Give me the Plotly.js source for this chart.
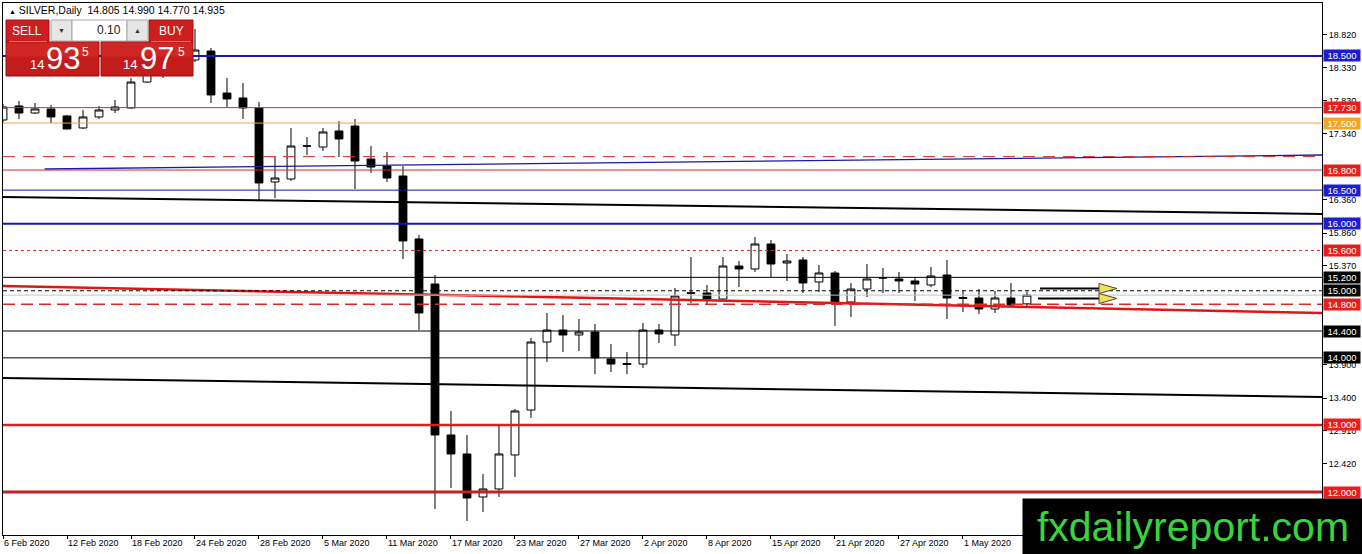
<!DOCTYPE html>
<html>
<head>
<meta charset="utf-8">
<script src="https://cdn.plot.ly/plotly-3.0.1.min.js"></script>
<style>
html, body { margin: 0; padding: 0; background: #fff; overflow: hidden; }
#chart { width: 1362px; height: 554px; }
</style>
</head>
<body>
<div id="chart"></div>
<script>
// SILVER daily bars, 6 Feb - 7 May 2020
var dates = [
  '6 Feb 2020','7 Feb 2020','10 Feb 2020','11 Feb 2020','12 Feb 2020','13 Feb 2020','14 Feb 2020',
  '17 Feb 2020','18 Feb 2020','19 Feb 2020','20 Feb 2020','21 Feb 2020','24 Feb 2020','25 Feb 2020',
  '26 Feb 2020','27 Feb 2020','28 Feb 2020',
  '2 Mar 2020','3 Mar 2020','4 Mar 2020','5 Mar 2020','6 Mar 2020','9 Mar 2020','10 Mar 2020',
  '11 Mar 2020','12 Mar 2020','13 Mar 2020','16 Mar 2020','17 Mar 2020','18 Mar 2020','19 Mar 2020',
  '20 Mar 2020','23 Mar 2020','24 Mar 2020','25 Mar 2020','26 Mar 2020','27 Mar 2020','30 Mar 2020',
  '31 Mar 2020',
  '1 Apr 2020','2 Apr 2020','3 Apr 2020','6 Apr 2020','7 Apr 2020','8 Apr 2020','9 Apr 2020',
  '13 Apr 2020','14 Apr 2020','15 Apr 2020','16 Apr 2020','17 Apr 2020','20 Apr 2020','21 Apr 2020',
  '22 Apr 2020','23 Apr 2020','24 Apr 2020','27 Apr 2020','28 Apr 2020','29 Apr 2020','30 Apr 2020',
  '1 May 2020','4 May 2020','5 May 2020','6 May 2020','7 May 2020'
];
var opens = [
  17.546,17.755,17.650,17.710,17.606,17.427,17.591,17.695,17.725,18.112,
  18.291,18.411,18.440,18.574,17.948,17.874,17.725,16.622,16.666,17.155,
  17.143,17.382,17.456,16.964,16.860,16.711,15.772,15.101,12.850,12.567,
  11.926,12.045,12.552,13.222,14.236,14.415,14.341,14.385,13.983,13.916,
  13.908,14.415,14.341,14.970,14.967,14.877,15.369,15.325,15.697,15.414,
  15.459,15.131,15.265,14.833,15.026,15.190,15.176,15.146,15.086,15.235,
  14.900,14.892,14.728,14.892,14.805
];
var highs = [
  17.784,17.829,17.799,17.770,17.620,17.695,17.755,17.844,18.172,18.351,
  18.500,18.679,18.902,18.619,18.172,18.097,17.814,17.009,17.427,17.292,
  17.427,17.531,17.561,17.158,17.069,16.860,15.831,15.235,13.208,12.850,
  12.268,12.984,13.237,14.296,14.669,14.639,14.579,14.505,14.206,14.087,
  14.520,14.505,15.041,15.503,15.086,15.503,15.444,15.802,15.757,15.548,
  15.503,15.384,15.295,15.116,15.399,15.340,15.280,15.205,15.354,15.459,
  14.997,15.026,14.997,15.116,14.990
];
var lows = [
  17.516,17.561,17.635,17.501,17.405,17.412,17.561,17.650,17.718,18.097,
  18.172,18.351,18.411,17.799,17.740,17.561,16.353,16.383,16.637,17.024,
  17.084,16.994,16.517,16.756,16.622,15.474,14.415,11.747,12.060,11.568,
  11.702,11.926,12.224,13.103,13.938,14.087,14.102,13.759,13.789,13.759,
  13.849,14.221,14.177,14.818,14.788,14.848,15.056,15.280,15.205,15.146,
  14.967,14.982,14.475,14.609,14.907,14.967,14.967,14.848,15.056,14.579,
  14.684,14.654,14.669,14.758,14.770
];
var closes = [
  17.740,17.650,17.710,17.591,17.412,17.591,17.695,17.740,18.112,18.291,
  18.411,18.560,18.589,17.919,17.859,17.725,16.607,16.681,17.158,17.160,
  17.367,17.263,16.935,16.845,16.681,15.742,14.669,12.850,12.567,11.911,
  12.045,12.567,13.208,14.236,14.415,14.341,14.385,13.998,13.908,13.901,
  14.415,14.356,14.922,14.962,14.877,15.369,15.325,15.697,15.399,15.444,
  15.116,15.265,14.833,15.026,15.176,15.192,15.146,15.101,15.220,14.892,
  14.885,14.728,14.892,14.788,14.935
];

// horizontal levels drawn on the chart, with a price box on the right
var levelPrices = [18.5, 17.73, 17.5, 16.8, 16.5, 16.0, 15.6, 15.2, 15.0, 14.8, 14.4, 14.0, 13.0, 12.0];
var unlabeledLevel = 17.0;
var bidPrice = 14.935;
// sloping lines: price at the left edge and at the right edge of the chart
var upperTrend = [16.398, 16.145];
var middleTrend = [15.071, 14.669];
var lowerTrend = [13.700, 13.417];
var blueTrend = [16.815, 17.024];
// price scale labels that are not covered by the level boxes
var priceTicks = [18.82, 18.33, 17.83, 17.34, 16.36, 15.86, 15.37, 13.9, 13.4, 12.91, 12.42];

var RED = '#e02626', BLUE = '#1616b4', BLACK = '#000000', ORANGE = '#f2a630';
var levelStyles = [
  {c: BLUE, w: 2, d: 'solid', box: '#1c1cd0'},
  {c: RED, w: 1, d: 'solid', box: '#ec1c1c'},
  {c: ORANGE, w: 1, d: 'solid', box: '#f5a526'},
  {c: RED, w: 1, d: 'solid', box: '#ec1c1c'},
  {c: BLUE, w: 1, d: 'solid', box: '#1c1cd0'},
  {c: BLUE, w: 2, d: 'solid', box: '#1c1cd0'},
  {c: RED, w: 1, d: '3px,3px', box: '#ec1c1c'},
  {c: BLACK, w: 1, d: 'solid', box: BLACK},
  {c: BLACK, w: 1, d: '4px,3px', box: BLACK},
  {c: RED, w: 1.5, d: '12px,6px', box: '#ec1c1c'},
  {c: BLACK, w: 1, d: 'solid', box: BLACK},
  {c: BLACK, w: 1, d: 'solid', box: BLACK},
  {c: '#e41c1c', w: 2.5, d: 'solid', box: '#ec1c1c'},
  {c: '#c42222', w: 3, d: 'solid', box: '#ec1c1c'}
];

// page geometry (pixels) -> paper coordinates for decorations
var W = 1362, H = 554, ML = 3, MR = 40, MT = 3, MB = 19;
function px(X) { return (X - ML) / (W - ML - MR); }
function py(Y) { return 1 - (Y - MT) / (H - MT - MB); }

var idx = dates.map(function (d, i) { return i; });
var xMax = 82.44;
var FONT = 'Liberation Sans, Arial, sans-serif';

var traces = [
  {
    type: 'candlestick', x: idx, open: opens, high: highs, low: lows, close: closes,
    increasing: {line: {color: 'black', width: 1}, fillcolor: 'white'},
    decreasing: {line: {color: 'black', width: 1}, fillcolor: 'black'},
    whiskerwidth: 0, hoverinfo: 'skip', showlegend: false
  },
  {type: 'scatter', mode: 'lines', x: [0, xMax], y: upperTrend, line: {color: 'black', width: 2}, hoverinfo: 'skip'},
  {type: 'scatter', mode: 'lines', x: [0, xMax], y: middleTrend, line: {color: '#e41414', width: 2.5}, hoverinfo: 'skip'},
  {type: 'scatter', mode: 'lines', x: [0, xMax], y: lowerTrend, line: {color: 'black', width: 2}, hoverinfo: 'skip'},
  {type: 'scatter', mode: 'lines', x: [2.6, xMax], y: blueTrend, line: {color: '#1a1aa8', width: 1.3}, hoverinfo: 'skip'}
];

var shapes = [];
function hline(p, c, w, d) {
  shapes.push({type: 'line', xref: 'paper', yref: 'y', x0: 0, x1: 1, y0: p, y1: p,
    line: {color: c, width: w, dash: d}, layer: 'above'});
}
hline(bidPrice, '#c4c4c4', 1, 'solid');
hline(unlabeledLevel, '#d42a2a', 1, '12px,8px');
levelPrices.forEach(function (p, i) {
  var s = levelStyles[i];
  hline(p, s.c, s.w, s.d);
});

// arrows near the last bars
function arrow(x0, x1, y) {
  shapes.push({type: 'line', xref: 'paper', yref: 'paper', x0: px(x0), x1: px(x1 + 2), y0: py(y), y1: py(y),
    line: {color: 'black', width: 2}, layer: 'above'});
  shapes.push({type: 'path', xref: 'paper', yref: 'paper',
    path: 'M' + px(x1) + ',' + py(y - 5) + ' L' + px(x1 + 18) + ',' + py(y) + ' L' + px(x1) + ',' + py(y + 5) + ' Z',
    fillcolor: '#f0e05c', line: {color: '#4a4a3a', width: 1}, layer: 'above'});
}
arrow(1040, 1099, 288.5);
arrow(1038, 1099, 298.5);

// one-click trading panel
function rect(x0, y0, x1, y1, fill, lc) {
  shapes.push({type: 'rect', xref: 'paper', yref: 'paper', x0: px(x0), x1: px(x1), y0: py(y0), y1: py(y1),
    fillcolor: fill, line: {color: lc || fill, width: 1}, layer: 'above'});
}
rect(6, 20, 49, 42, '#cc2020', '#a01010');
rect(149, 20, 193, 42, '#cc2020', '#a01010');
rect(51, 20, 72, 41, '#e6e6e6', '#a8a8a8');
rect(72, 20, 127, 41, '#ffffff', '#a8a8a8');
rect(127, 20, 148, 41, '#e6e6e6', '#a8a8a8');
rect(6, 42, 99, 76, '#c41c1c', '#981010');
rect(101, 42, 193, 76, '#c41c1c', '#981010');
rect(7, 43, 98, 56, '#cf2626', '#cf2626');
rect(102, 43, 192, 56, '#cf2626', '#cf2626');
shapes.push({type: 'line', xref: 'paper', yref: 'paper', x0: px(9), x1: px(47), y0: py(41.5), y1: py(41.5), line: {color: '#e86a6a', width: 1}, layer: 'above'});
shapes.push({type: 'line', xref: 'paper', yref: 'paper', x0: px(151), x1: px(191), y0: py(41.5), y1: py(41.5), line: {color: '#e86a6a', width: 1}, layer: 'above'});

var annotations = [];
function label(X, Y, text, size, color, anchor) {
  annotations.push({xref: 'paper', yref: 'paper', x: px(X), y: py(Y), text: text, showarrow: false,
    xanchor: anchor || 'center', yanchor: 'middle', font: {family: FONT, size: size, color: color}});
}
label(7, 10, '<span style="font-size:7px">▲</span> SILVER,Daily  14.805 14.990 14.770 14.935', 10.5, '#000', 'left');
label(27, 31, 'SELL', 12, '#fff');
label(171, 31, 'BUY', 12, '#fff');
label(61.5, 30.5, '▼', 7, '#333');
label(137.5, 30.5, '▲', 7, '#333');
label(123, 30.5, '0.10', 12, '#222', 'right');
label(37, 64, '14', 13, '#fff');
label(63, 58, '93', 31, '#fff');
label(85, 52, '5', 12, '#fff');
label(130, 64, '14', 13, '#fff');
label(157, 58, '97', 31, '#fff');
label(181, 52, '5', 12, '#fff');

// price boxes on the right axis
levelPrices.forEach(function (p, i) {
  annotations.push({xref: 'paper', yref: 'y', x: 1, y: p, xanchor: 'left', yanchor: 'middle', xshift: 1,
    text: p.toFixed(3), showarrow: false, bgcolor: levelStyles[i].box, borderpad: 0, width: 36, height: 11,
    font: {family: FONT, size: 9.5, color: '#fff'}});
});

// date labels, left-aligned on every fourth bar (the last one sits under the watermark)
var dateTicks = [];
for (var i = 0; i < dates.length; i += 4) {
  dateTicks.push(i);
  if (i > 60) continue;
  annotations.push({xref: 'x', yref: 'paper', x: i, y: py(543), xanchor: 'left', yanchor: 'middle', xshift: -1,
    text: dates[i], showarrow: false, font: {family: FONT, size: 9, color: '#000'}});
}

// watermark
annotations.push({xref: 'paper', yref: 'paper', x: px(1022), y: py(498), xanchor: 'left', yanchor: 'top',
  width: 340, height: 56, bgcolor: '#000', borderpad: 0, showarrow: false, align: 'center', valign: 'middle',
  text: 'fxdailyreport.com', font: {family: FONT, size: 41, color: '#3ad43a'}});

var layout = {
  width: W, height: H,
  margin: {l: ML, r: MR, t: MT, b: MB, pad: 0},
  paper_bgcolor: '#fff', plot_bgcolor: '#fff',
  showlegend: false, hovermode: false, dragmode: false,
  xaxis: {
    range: [0, xMax], showgrid: false, zeroline: false, rangeslider: {visible: false},
    showline: true, linecolor: 'black', linewidth: 1, mirror: true,
    tickvals: dateTicks, ticks: 'outside', ticklen: 3, tickcolor: 'black', showticklabels: false
  },
  yaxis: {
    side: 'right', range: [11.359, 19.290], showgrid: false, zeroline: false,
    showline: true, linecolor: 'black', linewidth: 1, mirror: true,
    tickvals: priceTicks, tickformat: '.3f', ticks: 'outside', ticklen: 4, tickcolor: 'black',
    tickfont: {family: FONT, size: 9, color: '#000'}
  },
  shapes: shapes,
  annotations: annotations
};

Plotly.newPlot('chart', traces, layout, {displayModeBar: false, staticPlot: true});
</script>
</body>
</html>
